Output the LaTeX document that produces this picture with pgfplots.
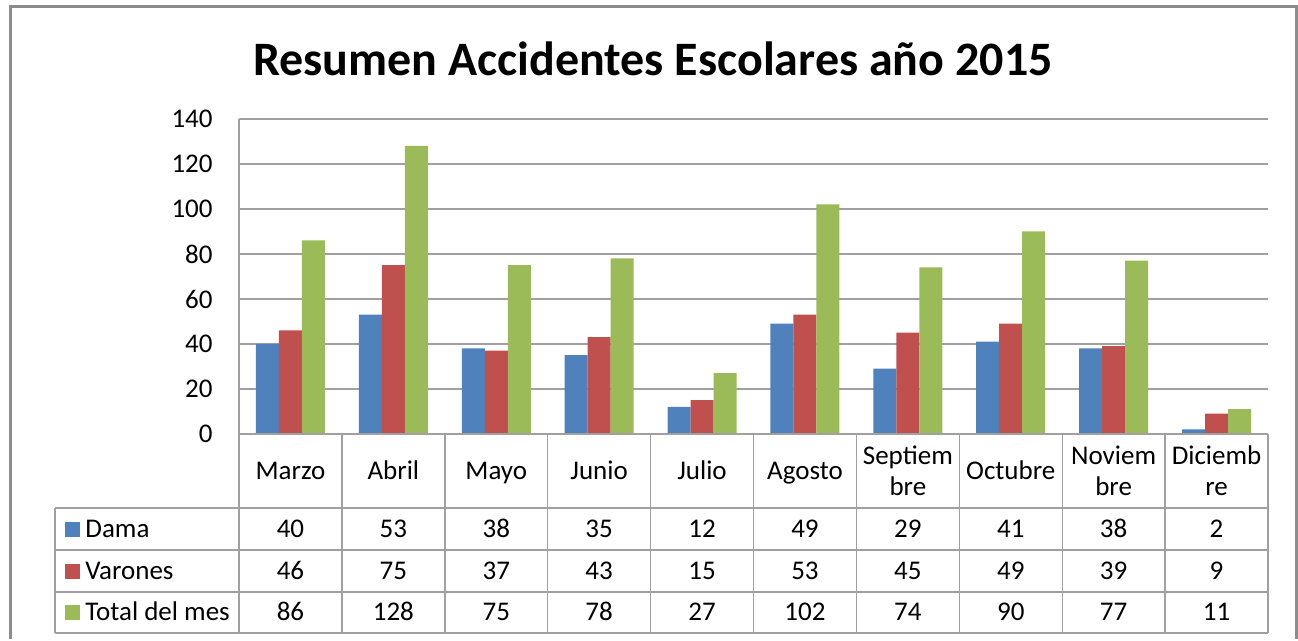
\documentclass[border=0pt]{standalone}
\usepackage{fontspec}
\setmainfont{Carlito}
\usepackage{pgfplots}
\pgfplotsset{compat=1.18}
\usepackage{pgfplotstable}

\definecolor{cDama}{HTML}{4F81BD}
\definecolor{cVar}{HTML}{C0504D}
\definecolor{cTot}{HTML}{9BBB59}
\definecolor{gridc}{HTML}{A0A0A0}
\definecolor{framec}{HTML}{8C8C8C}

% meses 0 = Marzo ... 9 = Diciembre
\pgfplotstableread{
x dama varones total
0 40 46 86
1 53 75 128
2 38 37 75
3 35 43 78
4 12 15 27
5 49 53 102
6 29 45 74
7 41 49 90
8 38 39 77
9 2 9 11
}\datos

\newcommand{\tf}{\fontsize{13.5}{15.5}\selectfont}
\tikzset{cell/.style={font=\tf, inner sep=0pt, text height=0.68em, text depth=0.2em}}

\begin{document}
\begin{tikzpicture}
% 1 px of the reference = 0.5pt
\begin{scope}[x=0.5pt,y=-0.5pt]
\path[use as bounding box] (0,0) rectangle (1298,639);
\end{scope}

\begin{axis}[
  at={(119.5pt,-217pt)}, anchor=south west, scale only axis,
  width=514.5pt, height=157.5pt,
  xmin=-0.5, xmax=9.5, ymin=0, ymax=140,
  xtick=\empty, ytick={0,20,...,140},
  axis x line=bottom, axis y line=left, axis line style={draw=none},
  major tick length=0pt,
  ymajorgrids, grid style={gridc, line width=0.6pt},
  yticklabel style={font=\tf, inner sep=0pt, xshift=-13pt},
  /pgf/number format/assume math mode=true,
  clip=false,
]
\addplot[ybar, bar width=11.5pt, bar shift=-11.5pt, fill=cDama, draw=none] table[x=x, y=dama] {\datos};
\addplot[ybar, bar width=11.5pt, bar shift=0pt, fill=cVar, draw=none] table[x=x, y=varones] {\datos};
\addplot[ybar, bar width=11.5pt, bar shift=11.5pt, fill=cTot, draw=none] table[x=x, y=total] {\datos};
\end{axis}

\begin{scope}[x=0.5pt,y=-0.5pt]
% frame
\draw[framec, line width=1.5pt] (10,639) -- (10,7) -- (1296,7) -- (1296,639);
% title
\node[font=\fontsize{24}{28}\selectfont\bfseries] at (653,59) {Resumen Accidentes Escolares año 2015};
% data table lines
\begin{scope}[gridc, line width=0.7pt]
\draw (239,119) -- (239,633);
\draw (239,434) -- (1268,434);
\foreach \yy in {508,550,592,633} \draw (55,\yy) -- (1268,\yy);
\draw (55,508) -- (55,633);
\draw (1268,434) -- (1268,633);
\foreach \i in {1,...,9} \draw ({239+102.9*\i},434) -- ({239+102.9*\i},633);
\end{scope}
% month headers (single line)
\foreach \m/\k in {Marzo/0,Abril/1,Mayo/2,Junio/3,Julio/4,Agosto/5,Octubre/7}
  \node[cell] at ({239+102.9*(\k+0.5)},475) {\m};
% month headers (wrapped)
\foreach \a/\b/\k in {Septiem/bre/6,Noviem/bre/8,Diciemb/re/9}{
  \node[cell] at ({239+102.9*(\k+0.5)},460) {\a};
  \node[cell] at ({239+102.9*(\k+0.5)},491) {\b};
}
% values
\foreach \i in {0,...,9}{
  \pgfplotstablegetelem{\i}{dama}\of\datos
  \node[cell] at ({239+102.9*(\i+0.5)},533) {\pgfplotsretval};
  \pgfplotstablegetelem{\i}{varones}\of\datos
  \node[cell] at ({239+102.9*(\i+0.5)},575) {\pgfplotsretval};
  \pgfplotstablegetelem{\i}{total}\of\datos
  \node[cell] at ({239+102.9*(\i+0.5)},616) {\pgfplotsretval};
}
% legend keys
\fill[cDama] (65,522) rectangle (80,537);
\fill[cVar] (65,564) rectangle (80,579);
\fill[cTot] (65,605) rectangle (80,620);
\node[cell, anchor=west] at (85,533) {Dama};
\node[cell, anchor=west] at (85,575) {Varones};
\node[cell, anchor=west] at (85,616) {Total del mes};
\end{scope}
\end{tikzpicture}
\end{document}
